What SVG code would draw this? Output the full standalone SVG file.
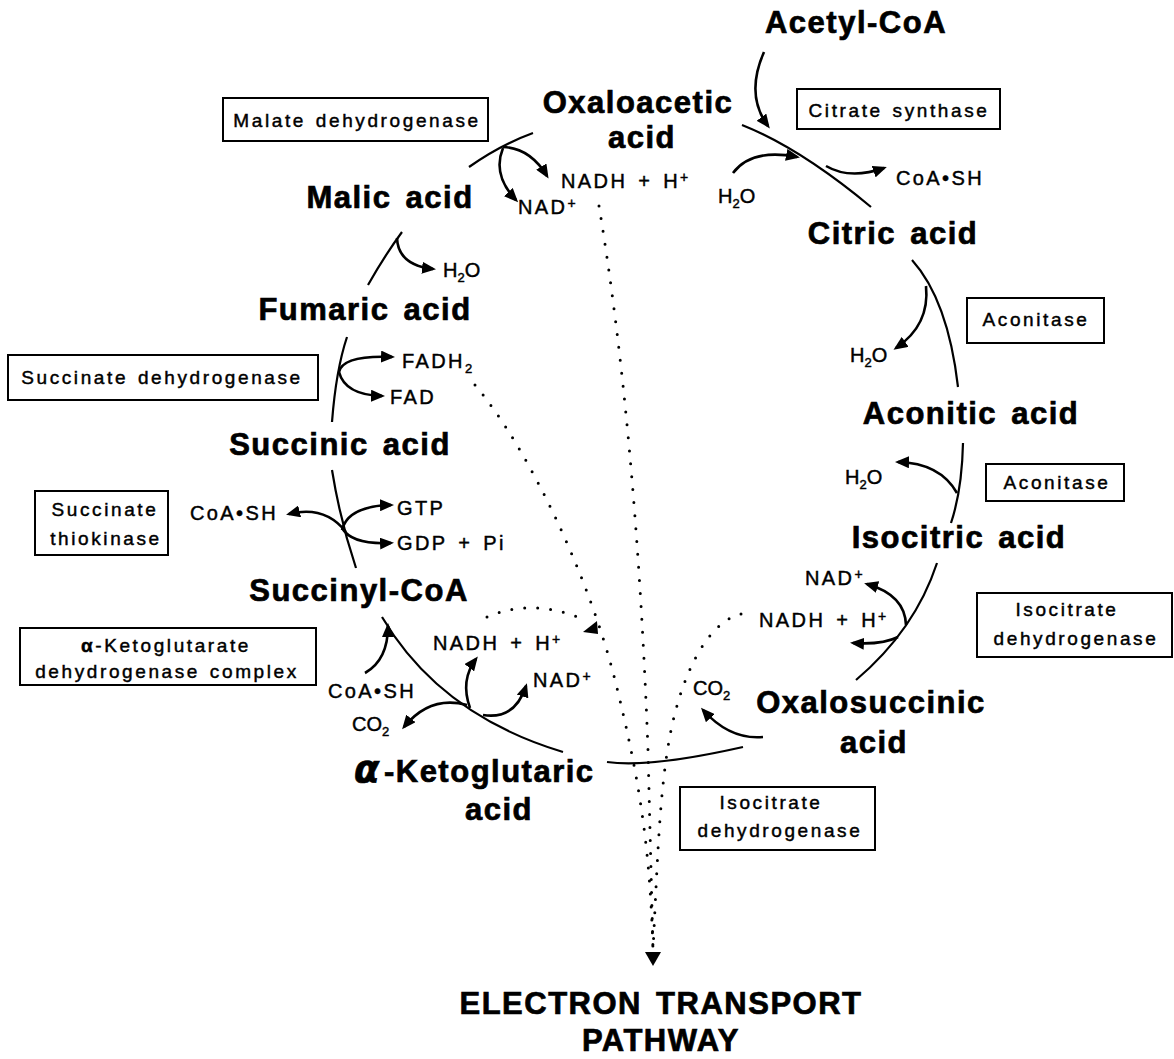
<svg xmlns="http://www.w3.org/2000/svg" width="1174" height="1059" viewBox="0 0 1174 1059">
<defs>
<marker id="ah" markerUnits="userSpaceOnUse" markerWidth="14" markerHeight="12" refX="11" refY="6" orient="auto"><path d="M0,0 L14,6 L0,12 z" fill="#000"/></marker>
<style>
.main{font-family:"Liberation Sans",Arial,sans-serif;font-weight:bold;font-size:31px;letter-spacing:1.5px;word-spacing:4px;text-anchor:middle;fill:#000;stroke:#000;stroke-width:0.7}
.enz{font-family:"Liberation Sans",Arial,sans-serif;font-size:19px;letter-spacing:2.6px;word-spacing:2px;text-anchor:middle;fill:#000;stroke:#000;stroke-width:0.45}
.chem{font-family:"Liberation Sans",Arial,sans-serif;font-size:20px;letter-spacing:2.4px;word-spacing:3px;fill:#000;stroke:#000;stroke-width:0.45}
.h2o{letter-spacing:0}
.box{fill:#fff;stroke:#000;stroke-width:2}
.rx{fill:none;stroke:#000;stroke-width:2.2}
.ar{fill:none;stroke:#000;stroke-width:2.6;marker-end:url(#ah)}
.dot{fill:none;stroke:#000;stroke-width:3;stroke-linecap:round;stroke-dasharray:0 13}
.sub{font-size:13px}
.sup{font-size:14px}
.alpha{font-family:"DejaVu Sans",sans-serif;font-weight:bold;font-style:italic;font-size:37px}
</style>
</defs>
<rect width="1174" height="1059" fill="#fff"/>

<g id="connectors">
  <path class="rx" d="M469,167 Q500,145 533,133"/>
  <path class="rx" d="M742,125 Q800,148 871,207"/>
  <path class="rx" d="M912,260 Q948,300 958,387"/>
  <path class="rx" d="M963,443 Q962,490 951,523"/>
  <path class="rx" d="M937,563 Q915,630 856,680"/>
  <path class="rx" d="M607,762 Q650,768 743,747"/>
  <path class="rx" d="M382,617 Q440,715 563,752"/>
  <path class="rx" d="M332,470 Q340,520 356,568"/>
  <path class="rx" d="M347,337 Q336,370 332,422"/>
  <path class="rx" d="M402,232 Q385,255 368,285"/>
  <path class="ar" d="M764,52 Q745,95 768,126"/>
  <path class="ar" d="M733,173 Q752,148 797,157"/>
  <path class="ar" d="M826,166 Q850,180 884,168"/>
  <path class="ar" d="M503,147 Q530,148 547,176"/>
  <path class="ar" d="M503,148 Q492,175 516,200"/>
  <path class="ar" d="M397,238 Q398,265 433,269"/>
  <path class="ar" d="M926,286 Q930,325 896,348"/>
  <path class="ar" d="M957,493 Q940,463 898,462"/>
  <path class="ar" d="M339,372 Q343,355 392,357"/>
  <path class="ar" d="M339,372 Q345,395 382,396"/>
  <path class="ar" d="M346,532 Q325,505 289,514"/>
  <path class="ar" d="M342,530 Q348,506 391,505"/>
  <path class="ar" d="M342,528 Q352,545 391,543"/>
  <path class="ar" d="M906,625 Q905,595 867,584"/>
  <path class="ar" d="M898,637 Q882,645 853,643"/>
  <path class="ar" d="M763,737 Q730,740 703,710"/>
  <path class="ar" d="M365,673 Q388,660 388,626"/>
  <path class="ar" d="M467,705 Q430,695 404,727"/>
  <path class="ar" d="M470,708 Q460,680 476,659"/>
  <path class="ar" d="M483,715 Q515,720 526,686"/>
  <path class="dot" d="M599,206 Q636,430 648,750 L653,950"/>
  <path class="dot" d="M475,385 C530,450 590,580 615,680 S650,850 653,950"/>
  <path class="dot" d="M741,614 C715,620 690,655 675,713 S658,850 653,950"/>
  <path class="dot" d="M487,617 Q530,598 580,618"/>
  <polygon points="583,632 597,621 598,634" fill="#000"/>
  <polygon points="645,952 661,952 653,966" fill="#000"/>
</g>

<g id="acetyl-coa"><text class="main" x="856" y="33">Acetyl-CoA</text></g>
<g id="oxaloacetic-acid"><text class="main" x="638" y="113">Oxaloacetic</text><text class="main" x="642" y="148">acid</text></g>
<g id="malic-acid"><text class="main" x="390" y="208">Malic acid</text></g>
<g id="citric-acid"><text class="main" x="893" y="244">Citric acid</text></g>
<g id="fumaric-acid"><text class="main" x="365" y="320">Fumaric acid</text></g>
<g id="aconitic-acid"><text class="main" x="971" y="424">Aconitic acid</text></g>
<g id="succinic-acid"><text class="main" x="340" y="455">Succinic acid</text></g>
<g id="isocitric-acid"><text class="main" x="959" y="548">Isocitric acid</text></g>
<g id="succinyl-coa"><text class="main" x="359" y="601">Succinyl-CoA</text></g>
<g id="oxalosuccinic-acid"><text class="main" x="871" y="713">Oxalosuccinic</text><text class="main" x="874" y="753">acid</text></g>
<g id="a-ketoglutaric-acid"><text class="main" x="354" y="782" style="text-anchor:start"><tspan class="alpha">α</tspan><tspan dx="3">-Ketoglutaric</tspan></text><text class="main" x="499" y="820">acid</text></g>
<g id="electron-transport"><text class="main" x="661" y="1014">ELECTRON TRANSPORT</text><text class="main" x="661" y="1051">PATHWAY</text></g>

<g id="enz-malate-dh"><rect class="box" x="223" y="98" width="265" height="43"/><text class="enz" x="357" y="127">Malate dehydrogenase</text></g>
<g id="enz-citrate-synthase"><rect class="box" x="797" y="89" width="203" height="40"/><text class="enz" x="899" y="117">Citrate synthase</text></g>
<g id="enz-aconitase-1"><rect class="box" x="967" y="298" width="137" height="45"/><text class="enz" x="1036" y="326">Aconitase</text></g>
<g id="enz-aconitase-2"><rect class="box" x="986" y="464" width="138" height="37"/><text class="enz" x="1057" y="489">Aconitase</text></g>
<g id="enz-succinate-dh"><rect class="box" x="8" y="355" width="310" height="45"/><text class="enz" x="162" y="384">Succinate dehydrogenase</text></g>
<g id="enz-succinate-thiokinase"><rect class="box" x="35" y="491" width="133" height="64"/><text class="enz" x="105" y="516">Succinate</text><text class="enz" x="106" y="545">thiokinase</text></g>
<g id="enz-akg-dh"><rect class="box" x="20" y="628" width="296" height="57"/><text class="enz" x="166" y="652"><tspan font-weight="bold">α</tspan>-Ketoglutarate</text><text class="enz" x="167" y="678">dehydrogenase complex</text></g>
<g id="enz-isocitrate-dh-1"><rect class="box" x="977" y="593" width="195" height="64"/><text class="enz" x="1067" y="616">Isocitrate</text><text class="enz" x="1076" y="645">dehydrogenase</text></g>
<g id="enz-isocitrate-dh-2"><rect class="box" x="680" y="787" width="195" height="63"/><text class="enz" x="771" y="809">Isocitrate</text><text class="enz" x="780" y="837">dehydrogenase</text></g>

<g id="cofactors">
  <text class="chem" x="561" y="188">NADH + H<tspan class="sup" dy="-6">+</tspan></text>
  <text class="chem" x="518" y="214">NAD<tspan class="sup" dy="-6">+</tspan></text>
  <text class="chem h2o" x="718" y="203">H<tspan class="sub" dy="5">2</tspan><tspan dy="-5">O</tspan></text>
  <text class="chem" x="896" y="185">CoA•SH</text>
  <text class="chem h2o" x="443" y="277">H<tspan class="sub" dy="5">2</tspan><tspan dy="-5">O</tspan></text>
  <text class="chem" x="402" y="368">FADH<tspan class="sub" dy="5">2</tspan></text>
  <text class="chem" x="390" y="404">FAD</text>
  <text class="chem h2o" x="850" y="362">H<tspan class="sub" dy="5">2</tspan><tspan dy="-5">O</tspan></text>
  <text class="chem h2o" x="845" y="484">H<tspan class="sub" dy="5">2</tspan><tspan dy="-5">O</tspan></text>
  <text class="chem" x="190" y="520">CoA•SH</text>
  <text class="chem" x="397" y="515">GTP</text>
  <text class="chem" x="397" y="550">GDP + Pi</text>
  <text class="chem" x="805" y="585">NAD<tspan class="sup" dy="-6">+</tspan></text>
  <text class="chem" x="759" y="627">NADH + H<tspan class="sup" dy="-6">+</tspan></text>
  <text class="chem" x="433" y="650">NADH + H<tspan class="sup" dy="-6">+</tspan></text>
  <text class="chem" x="533" y="687">NAD<tspan class="sup" dy="-6">+</tspan></text>
  <text class="chem" x="328" y="698">CoA•SH</text>
  <text class="chem h2o" x="352" y="731">CO<tspan class="sub" dy="5">2</tspan></text>
  <text class="chem h2o" x="693" y="695">CO<tspan class="sub" dy="5">2</tspan></text>
</g>
</svg>
